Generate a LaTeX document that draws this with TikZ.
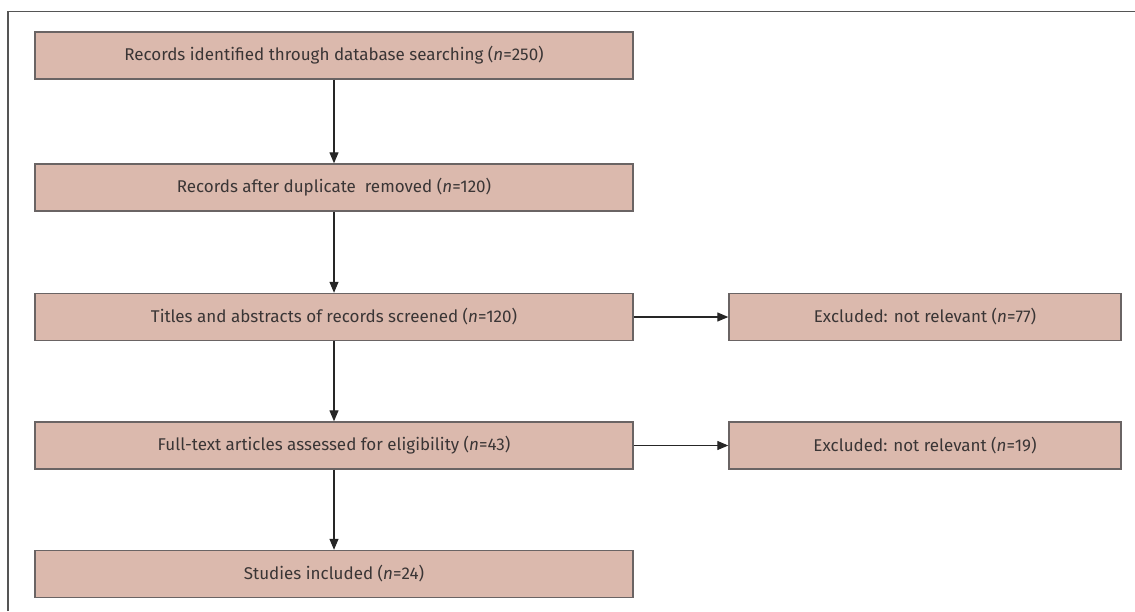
\documentclass[tikz,border=0pt]{standalone}
\usepackage{fontspec}
\setmainfont{Fira Sans}
\usetikzlibrary{arrows.meta}
\definecolor{boxfill}{HTML}{DBB9AD}
\definecolor{boxdraw}{HTML}{6A6464}
\definecolor{txt}{HTML}{3A3535}
\definecolor{framec}{HTML}{555555}
\tikzset{
  stepbox/.style={draw=boxdraw, line width=1.4pt, fill=boxfill, rectangle, minimum height=47pt, inner sep=0pt, text=txt, font=\fontsize{17}{20}\selectfont},
  mainbox/.style={stepbox, minimum width=598pt},
  sidebox/.style={stepbox, minimum width=392pt},
  arr/.style={draw=black!85, line width=1.2pt, -{Triangle[length=11pt,width=9pt]}}
}
\begin{document}
\begin{tikzpicture}[x=1pt,y=-1pt]
\useasboundingbox (0,0) rectangle (1135,611);
\draw[framec, line width=1.1pt] (8,611) -- (8,11.5) -- (1135,11.5);
\node[mainbox] (b1) at (334,55.5) {Records identified through database searching (\textit{n}=250)};
\node[mainbox] (b2) at (334,187.5) {Records after duplicate\ \ removed (\textit{n}=120)};
\node[mainbox] (b3) at (334,317) {Titles and abstracts of records screened (\textit{n}=120)};
\node[mainbox] (b4) at (334,445.5) {Full-text articles assessed for eligibility (\textit{n}=43)};
\node[mainbox] (b5) at (334,574) {Studies included (\textit{n}=24)};
\node[sidebox] (e1) at (925,317) {Excluded: not relevant (\textit{n}=77)};
\node[sidebox] (e2) at (925,445.5) {Excluded: not relevant (\textit{n}=19)};
\draw[arr] (b1) -- (b2);
\draw[arr] (b2) -- (b3);
\draw[arr] (b3) -- (b4);
\draw[arr] (b4) -- (b5);
\draw[arr] (b3) -- (e1);
\draw[arr] (b4) -- (e2);
\end{tikzpicture}
\end{document}
